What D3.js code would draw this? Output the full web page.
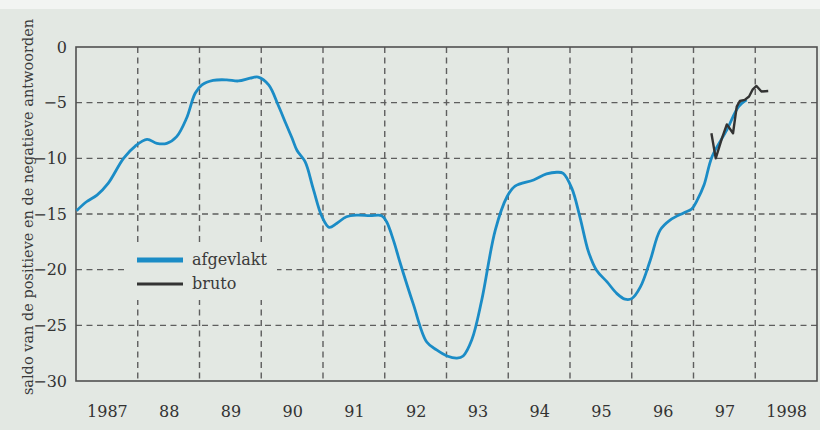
<!DOCTYPE html>
<html>
<head>
<meta charset="utf-8">
<script src="https://cdn.jsdelivr.net/npm/d3@7"></script>
<style>
  body { margin: 0; background: #e3e8e3; }
  svg { display: block; }
  text { font-family: "DejaVu Serif", "Liberation Serif", serif; fill: #333; }
</style>
</head>
<body>
<svg id="chart" width="820" height="430"></svg>
<script>
// smoothed series (afgevlakt): time in decimal years, value
var smoothT = [1987.01,1987.17,1987.34,1987.52,1987.77,1987.96,1988.15,1988.31,1988.47,1988.63,
               1988.79,1988.93,1989.04,1989.22,1989.44,1989.63,1989.82,1989.95,1990.12,1990.28,
               1990.40,1990.50,1990.58,1990.71,1990.84,1990.98,1991.10,1991.22,1991.38,1991.55,
               1991.76,1991.95,1992.03,1992.14,1992.25,1992.46,1992.68,1992.84,1993.01,1993.17,
               1993.27,1993.41,1993.57,1993.79,1993.98,1994.11,1994.41,1994.62,1994.79,1994.89,
               1995.03,1995.16,1995.30,1995.43,1995.60,1995.76,1995.89,1996.00,1996.14,1996.30,
               1996.46,1996.62,1996.84,1996.97,1997.06,1997.17,1997.30,1997.54,1997.73,1997.86];
var smoothV = [-14.7,-13.9,-13.3,-12.25,-10.0,-8.9,-8.3,-8.65,-8.65,-8.05,
               -6.4,-4.15,-3.4,-3.0,-2.95,-3.05,-2.8,-2.7,-3.4,-5.3,
               -6.9,-8.2,-9.3,-10.3,-12.7,-15.2,-16.2,-15.85,-15.25,-15.1,
               -15.15,-15.15,-15.7,-17.35,-19.4,-23.05,-26.5,-27.2,-27.75,-27.95,
               -27.75,-26.3,-22.75,-16.45,-13.45,-12.5,-11.95,-11.4,-11.25,-11.35,
               -12.7,-15.25,-18.4,-20.05,-21.1,-22.15,-22.65,-22.6,-21.55,-19.15,
               -16.45,-15.55,-14.9,-14.55,-13.75,-12.4,-9.85,-7.45,-5.35,-4.75];

// raw series (bruto)
var rawT = [1997.29,1997.36,1997.46,1997.54,1997.64,1997.70,1997.75,1997.83,1997.90,1997.96,1998.02,1998.10,1998.21];
var rawV = [-7.75,-10.0,-8.2,-6.95,-7.75,-5.35,-4.85,-4.75,-4.45,-3.8,-3.5,-4.0,-3.95];

var yearLabels = ["1987","88","89","90","91","92","93","94","95","96","97","1998"];
var yTicks = [0,-5,-10,-15,-20,-25,-30];
var legendNames = ["afgevlakt","bruto"];
var yTitle = "saldo van de positieve en de negatieve antwoorden";

var svg = d3.select("#chart");
var plot = {left: 76, right: 817, top: 47, bottom: 381};
var blue = "#1b8cc6", dark = "#333";
var serif = "'DejaVu Serif', 'Liberation Serif', serif";

svg.append("rect").attr("x",0).attr("y",0).attr("width",820).attr("height",9).style("fill","#f2f4f2");

var x = d3.scaleLinear().domain([1987, 1999]).range([plot.left, plot.right]);
var y = d3.scaleLinear().domain([-30, 0]).range([plot.bottom, plot.top]);

// grid
var grid = svg.append("g").style("stroke","#5e5e5e").style("stroke-width",1.4).style("stroke-dasharray","6,4.5");
grid.selectAll(".hg").data(yTicks.filter(function(d){ return d < 0 && d > -30; }))
  .enter().append("line")
  .attr("x1", plot.left).attr("x2", plot.right)
  .attr("y1", function(d){ return y(d); }).attr("y2", function(d){ return y(d); });
grid.selectAll(".vg").data(d3.range(1988, 1999))
  .enter().append("line")
  .attr("y1", plot.top).attr("y2", plot.bottom)
  .attr("x1", function(d){ return x(d); }).attr("x2", function(d){ return x(d); });

// frame
svg.append("rect").attr("x",plot.left).attr("y",plot.top)
  .attr("width",plot.right-plot.left).attr("height",plot.bottom-plot.top)
  .style("fill","none").style("stroke","#505050").style("stroke-width",1.6);

// axes
var yAxis = svg.append("g").attr("transform","translate("+(plot.left-9)+",0)")
  .call(d3.axisLeft(y).tickValues(yTicks).tickSize(0).tickPadding(0));
yAxis.attr("font-family", serif).attr("font-size", 16);
yAxis.select(".domain").remove();
yAxis.selectAll("text").attr("fill","#3a3a3a");

var xAxis = svg.append("g").attr("transform","translate(0,"+(plot.bottom+25)+")")
  .call(d3.axisBottom(x).tickValues(d3.range(1987.5, 1999, 1)).tickSize(0).tickPadding(0)
    .tickFormat(function(d, i){ return yearLabels[i]; }));
xAxis.attr("font-family", serif).attr("font-size", 16);
xAxis.select(".domain").remove();
xAxis.selectAll("text").attr("fill","#3a3a3a");

svg.append("text").attr("transform","translate(33,207) rotate(-90)")
  .style("text-anchor","middle").style("font-family",serif).style("font-size","14.5px")
  .style("fill","#3a3a3a").text(yTitle);

// lines
var line = d3.line().x(function(d){ return x(d[0]); }).y(function(d){ return y(d[1]); });
svg.append("path").datum(d3.zip(smoothT, smoothV))
  .attr("d", line.curve(d3.curveCatmullRom.alpha(0.5)))
  .style("fill","none").style("stroke",blue).style("stroke-width",2.8).style("stroke-linejoin","round");
svg.append("path").datum(d3.zip(rawT, rawV))
  .attr("d", d3.line().x(function(d){ return x(d[0]); }).y(function(d){ return y(d[1]); }))
  .style("fill","none").style("stroke",dark).style("stroke-width",2.4).style("stroke-linejoin","round");

// legend
var lg = svg.append("g");
lg.append("rect").attr("x",125).attr("y",242).attr("width",152).attr("height",58).style("fill","#e3e8e3");
var colors = [blue, dark], widths = [5, 3];
legendNames.forEach(function(name, i) {
  var ly = 260 + i*24;
  lg.append("line").attr("x1",137).attr("x2",183).attr("y1",ly).attr("y2",ly)
    .style("stroke",colors[i]).style("stroke-width",widths[i]);
  lg.append("text").attr("x",192).attr("y",ly+5).style("font-family",serif).style("font-size","16px")
    .style("fill","#3a3a3a").text(name);
});
</script>
</body>
</html>
